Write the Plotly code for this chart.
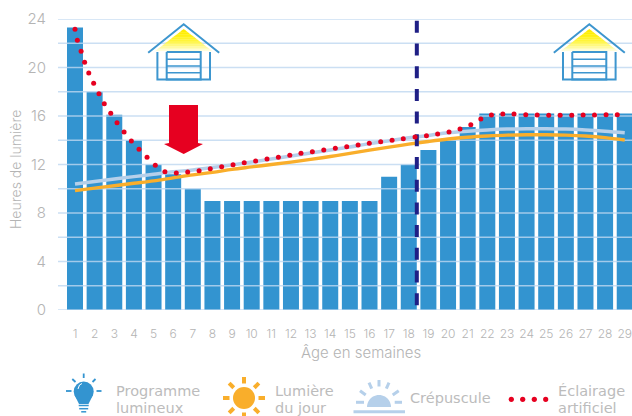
import math
import plotly.graph_objects as go

W, H = 632, 416
L, R, T, B = 58, 632, 19, 310

weeks = list(range(1, 30))
program_hours = [23.3, 18, 16.1, 14, 12, 11.2, 10, 9, 9, 9, 9, 9, 9, 9, 9, 9, 11, 12, 13.2, 14,
                 15.1, 16.2, 16.2, 16.2, 16.2, 16.2, 16.2, 16.2, 16.2]
daylight = [9.85, 10.05, 10.25, 10.45, 10.65, 10.9, 11.15, 11.35, 11.6, 11.8, 12.0, 12.2, 12.42,
            12.66, 12.92, 13.18, 13.43, 13.68, 13.9, 14.1, 14.25, 14.35, 14.42, 14.45, 14.45, 14.42,
            14.35, 14.22, 14.02]
twilight = [10.4, 10.6, 10.8, 11.0, 11.2, 11.4, 11.55, 11.75, 11.97, 12.2, 12.45, 12.7, 12.95,
            13.2, 13.45, 13.72, 13.95, 14.2, 14.4, 14.62, 14.75, 14.85, 14.92, 14.95, 14.95,
            14.92, 14.85, 14.75, 14.62]
artificial_x = [1.0, 1.12, 1.31, 1.49, 1.70, 1.95, 2.22, 2.49, 2.82, 3.14, 3.50, 3.87, 4.26, 4.67,
                5.09, 5.58, 6.16, 6.74, 7.32, 7.89, 8.47, 9.05, 9.62, 10.2, 10.78, 11.36, 11.94,
                12.51, 13.09, 13.67, 14.26, 14.84, 15.42, 15.99, 16.57, 17.15, 17.72, 18.32, 18.9,
                19.47, 20.05, 20.61, 21.16, 21.67, 22.21, 22.79, 23.36, 23.96, 24.54, 25.13, 25.71,
                26.3, 26.88, 27.46, 28.05, 28.62]
artificial_y = [23.15, 22.24, 21.33, 20.43, 19.55, 18.7, 17.84, 17.02, 16.22, 15.45, 14.68, 13.94,
                13.25, 12.59, 11.93, 11.41, 11.30, 11.38, 11.49, 11.65, 11.82, 11.98, 12.15, 12.29,
                12.45, 12.59, 12.76, 12.92, 13.06, 13.2, 13.33, 13.47, 13.61, 13.75, 13.88, 13.99,
                14.13, 14.27, 14.37, 14.52, 14.68, 14.93, 15.28, 15.75, 16.08, 16.16, 16.16, 16.11,
                16.08, 16.06, 16.06, 16.06, 16.08, 16.08, 16.11, 16.11]
transfer_week = 18.41
grid_values = list(range(0, 25, 2))
y_ticks = [0, 4, 8, 12, 16, 20, 24]
x_min, x_max = 0.134, 29.37

BLUE = "#3394d0"
ICON = "#3d96cf"
ORANGE = "#f9ae2b"
PALE = "#b6d0ea"
RED = "#e60020"
NAVY = "#1f1f85"
TEXT = "#b4b4b4"
LEGEND_TEXT = "#bcbcbc"
FONT = "Inter"
LEGEND_FONT = "DejaVu Sans"


def px(x):
    return (x - L) / (R - L)


def py(y):
    return (B - y) / (B - T)


def poly(points, close=True):
    d = "M" + " L".join(f"{px(x):.5f},{py(y):.5f}" for x, y in points)
    return d + (" Z" if close else "")


shapes = []


def line(points, color, width):
    shapes.append(dict(type="path", xref="paper", yref="paper", path=poly(points, False),
                       line=dict(color=color, width=width), fillcolor="rgba(0,0,0,0)"))


def fill(points, color):
    shapes.append(dict(type="path", xref="paper", yref="paper", path=poly(points),
                       line=dict(width=0), fillcolor=color))


def circle(cx, cy, r, color):
    shapes.append(dict(type="circle", xref="paper", yref="paper", x0=px(cx - r), x1=px(cx + r),
                       y0=py(cy + r), y1=py(cy - r), line=dict(width=0), fillcolor=color))


def house(cx):
    apex, base, half = 29.0, 53.0, 31.0
    bands = 14
    for i in range(bands):
        y0 = apex + (base - apex) * i / bands
        y1 = apex + (base - apex) * (i + 1) / bands + 0.3
        t = i / (bands - 1)
        col = f"rgb(255,{int(236 + 19 * t)},{int(255 * t ** 1.9)})"
        w0 = half * (y0 - apex) / (base - apex)
        w1 = half * (y1 - apex) / (base - apex)
        fill([(cx - w0, y0), (cx + w0, y0), (cx + w1, y1), (cx - w1, y1)], col)
    line([(cx - 35.5, 52.7), (cx, 24.3), (cx + 35.5, 52.7)], ICON, 2)
    line([(cx - 26.3, 52), (cx - 26.3, 79.5), (cx + 26.3, 79.5), (cx + 26.3, 52)], ICON, 2)
    line([(cx - 17, 52), (cx + 17, 52), (cx + 17, 79.5), (cx - 17, 79.5), (cx - 17, 52)], ICON, 2)
    for y in (59.3, 66, 72.7):
        line([(cx - 17, y), (cx + 17, y)], ICON, 1.6)


house(183.7)
house(589.3)

# red arrow
fill([(169, 105), (198, 105), (198, 143), (203, 144), (183.7, 154), (164, 144), (169, 143)], RED)

# bulb icon
circle(83.7, 391.5, 10, BLUE)
fill([(74.5, 395), (93, 395), (88.5, 404), (79, 404)], BLUE)
for y, hw in ((405.5, 5), (408.7, 4.5), (411.8, 2.5)):
    line([(83.7 - hw, y), (83.7 + hw, y)], BLUE, 1.5)
line([(83.7, 373.5), (83.7, 378)], BLUE, 1.8)
line([(72.3, 379), (75.5, 382)], BLUE, 1.8)
line([(95.5, 379), (92.5, 382)], BLUE, 1.8)
line([(66, 391), (71.5, 391)], BLUE, 1.8)
line([(96.5, 391), (101.5, 391)], BLUE, 1.8)
line([(78, 389), (79.5, 385), (82, 383.5)], "#ffffff", 1)

# sun icon
circle(244, 398, 11, ORANGE)
for k in range(8):
    a = k * math.pi / 4
    line([(244 + 14.5 * math.cos(a), 398 + 14.5 * math.sin(a)),
          (244 + 21 * math.cos(a), 398 + 21 * math.sin(a))], ORANGE, 4)

# twilight icon
fill([(379 + 12 * math.cos(math.pi * i / 24), 407 - 12 * math.sin(math.pi * i / 24)) for i in range(25)], PALE)
line([(353.5, 411.7), (405, 411.7)], PALE, 3)
line([(379, 380), (379, 386.5)], PALE, 3)
line([(369, 382.7), (371.7, 388.7)], PALE, 3)
line([(389, 382.7), (386.3, 388.7)], PALE, 3)
line([(360, 390.7), (365.7, 395)], PALE, 3)
line([(398.7, 390.7), (392.7, 395)], PALE, 3)
line([(356, 402.3), (364, 402.3)], PALE, 3)
line([(394.7, 402.3), (402, 402.3)], PALE, 3)

# artificial light legend key
for cx in (511.3, 522.7, 534.3, 545.7):
    circle(cx, 399.3, 2.6, RED)

grid_x, grid_y = [], []
for v in grid_values:
    grid_x += [x_min, x_max, None]
    grid_y += [v, v, None]

fig = go.Figure()
fig.add_trace(go.Bar(x=weeks, y=program_hours, width=0.815, marker=dict(color=BLUE, line=dict(width=0))))
fig.add_trace(go.Scatter(x=grid_x, y=grid_y, mode="lines", cliponaxis=False,
                         line=dict(color="rgba(190,215,240,0.8)", width=1.5)))
fig.add_trace(go.Scatter(x=weeks, y=twilight, mode="lines", line=dict(color=PALE, width=3.5, shape="spline")))
fig.add_trace(go.Scatter(x=weeks, y=daylight, mode="lines", line=dict(color=ORANGE, width=3.4, shape="spline")))
fig.add_trace(go.Scatter(x=[transfer_week, transfer_week], y=[23.85, 0.2], mode="lines",
                         line=dict(color=NAVY, width=4, dash="12px,10.7px")))
fig.add_trace(go.Scatter(x=artificial_x, y=artificial_y, mode="markers",
                         marker=dict(color=RED, size=5, line=dict(width=0))))


def label(x, y, text, size=14.5, anchor="left", angle=0, family=LEGEND_FONT, color=LEGEND_TEXT, weight=400):
    return dict(xref="paper", yref="paper", x=px(x), y=py(y), text=text, showarrow=False,
                xanchor=anchor, yanchor="middle", align="left", textangle=angle, borderpad=0,
                font=dict(family=family, size=size, color=color, weight=weight))


fig.update_layout(
    width=W, height=H, showlegend=False, plot_bgcolor="white", paper_bgcolor="white",
    margin=dict(l=L, r=W - R, t=T, b=H - B, pad=0),
    font=dict(family=FONT, color=TEXT),
    shapes=shapes,
    annotations=[
        label(114.5, 390.5, "Programme"),
        label(114.5, 407.5, "lumineux"),
        label(273.5, 390.5, "Lumière"),
        label(273.5, 407.5, "du jour"),
        label(408.5, 398, "Crépuscule"),
        label(556.5, 390.5, "Éclairage"),
        label(556.5, 407.5, "artificiel"),
        label(361, 352, "Âge en semaines", size=15, anchor="center", family=FONT, color=TEXT, weight=300),
        label(16, 170, "Heures de lumière", size=14, anchor="center", angle=-90, family=FONT, color=TEXT, weight=300),
    ],
    xaxis=dict(range=[x_min, x_max], tickmode="array", tickvals=weeks, ticktext=[str(w) for w in weeks],
               showgrid=False, zeroline=False, showline=False, ticks="outside", ticklen=13,
               ticklabeloverflow="allow",
               tickcolor="rgba(0,0,0,0)", tickfont=dict(family=FONT, size=12, color=TEXT, weight=300),
               tickangle=0),
    yaxis=dict(range=[0, 24], tickmode="array", tickvals=y_ticks, ticktext=[str(v) for v in y_ticks],
               showgrid=False, zeroline=False, showline=False, ticks="outside", ticklen=8,
               tickcolor="rgba(0,0,0,0)", tickfont=dict(family=FONT, size=15, color=TEXT, weight=300)),
)

fig.write_html("out.html", config=dict(displayModeBar=False),
               post_script="document.body.style.margin='0';document.body.style.overflow='hidden';")
